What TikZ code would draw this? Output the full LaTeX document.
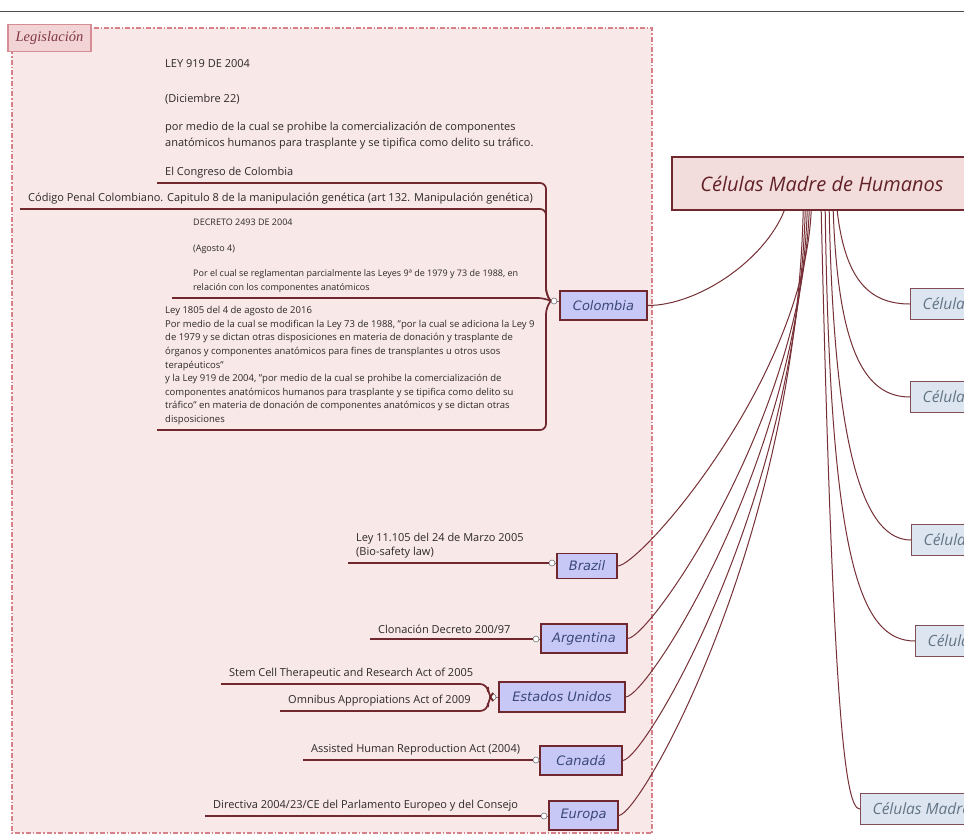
\documentclass[tikz,border=0pt]{standalone}
\usepackage{fontspec}
\setmainfont{Open Sans}
\newfontfamily\dejafont{DejaVu Sans}
\newfontfamily\timesfont{Liberation Serif}
\usetikzlibrary{calc}
\definecolor{bgpink}{RGB}{248,232,232}
\definecolor{dashpink}{RGB}{214,128,138}
\definecolor{brn}{RGB}{112,40,46}
\definecolor{connc}{RGB}{118,48,54}
\definecolor{countryfill}{RGB}{200,200,246}
\definecolor{countrytxt}{RGB}{58,72,122}
\definecolor{rightfill}{RGB}{221,230,240}
\definecolor{righttxt}{RGB}{98,116,134}
\definecolor{rightborder}{RGB}{128,78,84}
\definecolor{centerfill}{RGB}{242,220,220}
\definecolor{centertxt}{RGB}{98,34,40}
\definecolor{legfill}{RGB}{243,212,214}
\definecolor{legborder}{RGB}{214,140,148}
\definecolor{legtxt}{RGB}{128,56,66}
\definecolor{leaftxt}{RGB}{45,40,40}
\begin{document}
\begin{tikzpicture}[x=1pt,y=-1pt,
  legbox/.style={draw=legborder,line width=1.6pt,fill=legfill,minimum width=83pt,minimum height=27pt,inner sep=0pt,
    font=\timesfont\itshape\fontsize{14.5}{16}\selectfont,text=legtxt},
  centerbox/.style={draw=brn,line width=1.6pt,fill=centerfill,minimum width=300pt,minimum height=53pt,inner sep=0pt,
    font=\itshape\fontsize{20}{23}\selectfont,text=centertxt},
  country/.style={draw=brn,line width=1.3pt,fill=countryfill,inner sep=0pt,minimum height=29pt,
    font=\dejafont\itshape\fontsize{13}{15}\selectfont,text=countrytxt},
  rightbox/.style={draw=rightborder,line width=1.3pt,fill=rightfill,inner xsep=12pt,inner ysep=0pt,minimum height=31pt,
    anchor=west,font=\itshape\fontsize{15.5}{18}\selectfont,text=righttxt},
  leaf/.style={anchor=south west,inner xsep=8pt,inner ysep=5pt,align=left,text=leaftxt,
    font=\fontsize{11}{14}\selectfont},
  port/.style={circle,draw=black!55,fill=white,line width=0.6pt,minimum size=6pt,inner sep=0pt},
  uline/.style={draw=brn,line width=1.7pt,rounded corners=6pt},
  conn/.style={draw=connc,line width=1pt},
  shortln/.style={draw=black!55,line width=0.6pt}
]
\useasboundingbox (0,0) rectangle (964,836);
\fill[white] (0,0) rectangle (964,836);
\draw[line width=0.8pt,black!70] (0,11) -- (964,11);

% legislation region
\draw[fill=bgpink,draw=dashpink,line width=1.6pt,dash pattern=on 5pt off 2pt on 1.5pt off 2pt] (12,28) rectangle (652,833);
\node[legbox] (leg) at (49.5,38) {Legislación};

% central topic
\node[centerbox] (center) at (822,183.5) {Células Madre de Humanos};

% right topics
\node[rightbox] (r1) at (910,304) {Células Madre};
\node[rightbox] (r2) at (910,397) {Células Madre};
\node[rightbox] (r3) at (911,540) {Células Madre};
\node[rightbox] (r4) at (915,641) {Células Madre};
\node[rightbox] (r5) at (860,809) {Células Madre};

% country topics
\node[country,minimum width=87pt] (colombia) at (603.5,305.5) {Colombia};
\node[country,minimum width=60pt,minimum height=25pt] (brazil) at (587,566) {Brazil};
\node[country,minimum width=86pt] (argentina) at (584,638.5) {Argentina};
\node[country,minimum width=126pt,minimum height=30pt] (eu) at (562,697) {Estados Unidos};
\node[country,minimum width=82pt] (canada) at (581,760.5) {Canadá};
\node[country,minimum width=69pt] (europa) at (583.5,815.5) {Europa};

% ports
\node[port] (pcol) at (554,301) {};
\node[port] (pbra) at (552,563) {};
\node[port] (parg) at (536,639) {};
\node[port] (peu) at (493,697) {};
\node[port] (pcan) at (536,760) {};
\node[port] (peur) at (544,816) {};
\draw[shortln] (pcol.east) -- (colombia.west |- pcol);
\draw[shortln] (pbra.east) -- (brazil.west |- pbra);
\draw[shortln] (parg.east) -- (argentina.west |- parg);
\draw[shortln] (peu.east) -- (eu.west |- peu);
\draw[shortln] (pcan.east) -- (canada.west |- pcan);
\draw[shortln] (peur.east) -- (europa.west |- peur);

% leaves: Colombia
\node[leaf,font=\fontsize{11}{16}\selectfont] (col1) at (157,183) {LEY 919 DE 2004\\[19pt](Diciembre 22)\\[12pt]por medio de la cual se prohibe la comercialización de componentes\\anatómicos humanos para trasplante y se tipifica como delito su tráfico.\\[13pt]El Congreso de Colombia};
\node[leaf] (col2) at (20,209) {Código Penal Colombiano. Capitulo 8 de la manipulación genética (art 132. Manipulación genética)};
\node[leaf,font=\fontsize{9}{14}\selectfont] (col3) at (185,298) {DECRETO 2493 DE 2004\\[12pt](Agosto 4)\\[11pt]Por el cual se reglamentan parcialmente las Leyes 9ª de 1979 y 73 de 1988, en\\relación con los componentes anatómicos};
\node[leaf,font=\fontsize{9.5}{13.6}\selectfont] (col4) at (157,430) {Ley 1805 del 4 de agosto de 2016\\Por medio de la cual se modifican la Ley 73 de 1988, "por la cual se adiciona la Ley 9\\de 1979 y se dictan otras disposiciones en materia de donación y trasplante de\\órganos y componentes anatómicos para fines de transplantes u otros usos\\terapéuticos"\\y la Ley 919 de 2004, "por medio de la cual se prohibe la comercialización de\\componentes anatómicos humanos para trasplante y se tipifica como delito su\\tráfico" en materia de donación de componentes anatómicos y se dictan otras\\disposiciones};
\coordinate (jx) at (546,301);
\draw[uline] (col1.south west) -- (col1.south west -| jx) -- ($(jx)+(0,-7)$) -- (pcol.west);
\draw[uline] (col2.south west) -- (col2.south west -| jx) -- ($(jx)+(0,-7)$) -- (pcol.west);
\draw[uline] (col3.south west) ++(-13,0) -- ($(col3.south west -| jx)+(-2,0)$) -- (pcol.west);
\draw[uline] (col4.south west) -- (col4.south west -| jx) -- ($(jx)+(0,7)$) -- (pcol.west);

% leaves: others
\node[leaf] (bra1) at (348,563) {Ley 11.105 del 24 de Marzo 2005\\(Bio-safety law)};
\draw[uline] (bra1.south west) -- (pbra.west);
\node[leaf] (arg1) at (370,639) {Clonación Decreto 200/97};
\draw[uline] (arg1.south west) -- (parg.west);
\node[leaf] (eu1) at (221,684) {Stem Cell Therapeutic and Research Act of 2005};
\node[leaf] (eu2) at (280,711) {Omnibus Appropiations Act of 2009};
\coordinate (ejx) at (488,697);
\draw[uline,rounded corners=8pt] (eu1.south west) -- (eu1.south west -| ejx) -- ($(ejx)+(0,-2)$) -- (peu.west);
\draw[uline,rounded corners=8pt] (eu2.south west) -- (eu2.south west -| ejx) -- ($(ejx)+(0,2)$) -- (peu.west);
\node[leaf] (can1) at (303,760) {Assisted Human Reproduction Act (2004)};
\draw[uline] (can1.south west) -- (pcan.west);
\node[leaf] (eur1) at (205,816) {Directiva 2004/23/CE del Parlamento Europeo y del Consejo};
\draw[uline] (eur1.south west) -- (peur.west);

% connectors from the central topic
\coordinate (sCol) at ($(center.south west)+(113,0)$);
\coordinate (sBra) at ($(center.south west)+(140,0)$);
\coordinate (sArg) at ($(center.south west)+(138,0)$);
\coordinate (sEU)  at ($(center.south west)+(136,0)$);
\coordinate (sCan) at ($(center.south west)+(134,0)$);
\coordinate (sEur) at ($(center.south west)+(132,0)$);
\coordinate (sR1) at ($(center.south west)+(166,0)$);
\coordinate (sR2) at ($(center.south west)+(162,0)$);
\coordinate (sR3) at ($(center.south west)+(158,0)$);
\coordinate (sR4) at ($(center.south west)+(154,0)$);
\coordinate (sR5) at ($(center.south west)+(150,0)$);

\draw[conn] (colombia.east) .. controls +(50,0) and +(-20,50) .. (sCol);
\draw[conn] (brazil.east) .. controls +(22,0) and +(-8,170) .. (sBra);
\draw[conn] (argentina.east) .. controls +(22,0) and +(-8,210) .. (sArg);
\draw[conn] (eu.east) .. controls +(22,0) and +(-8,250) .. (sEU);
\draw[conn] (canada.east) .. controls +(22,0) and +(-8,290) .. (sCan);
\draw[conn] (europa.east) .. controls +(22,0) and +(-8,330) .. (sEur);

\draw[conn] (sR1) .. controls +(8,70) and +(-40,0) .. (r1.west);
\draw[conn] (sR2) .. controls +(5,140) and +(-45,0) .. (r2.west);
\draw[conn] (sR3) .. controls +(5,250) and +(-45,0) .. (r3.west);
\draw[conn] (sR4) .. controls +(5,350) and +(-55,0) .. (r4.west);
\draw[conn] (sR5) .. controls +(12,520) and +(-14,0) .. (r5.west);
\end{tikzpicture}
\end{document}
